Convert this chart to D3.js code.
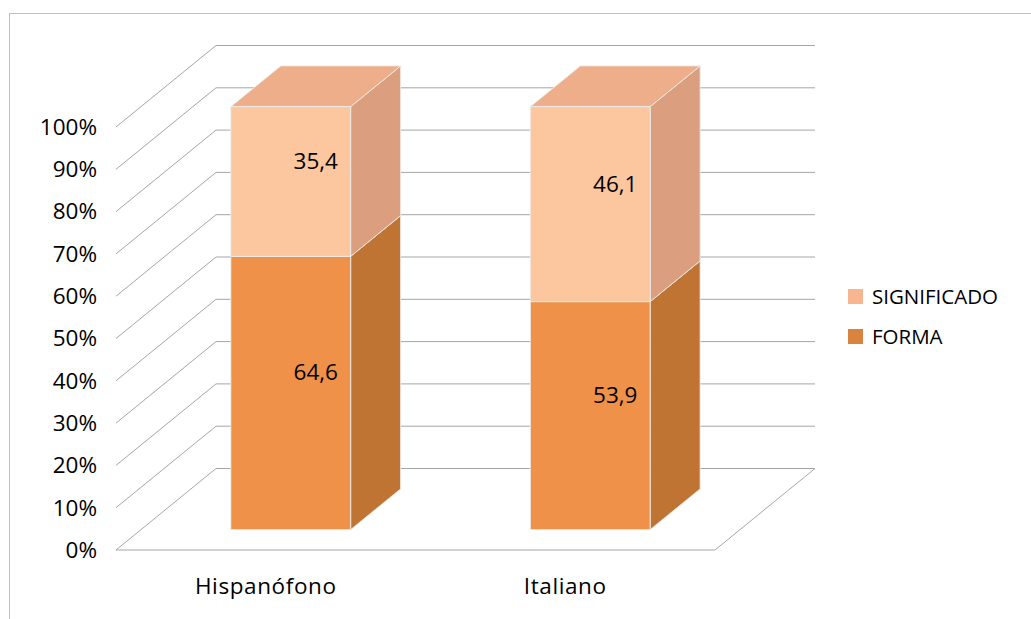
<!DOCTYPE html>
<html>
<head>
<meta charset="utf-8">
<script src="https://cdn.jsdelivr.net/npm/d3@7"></script>
<style>
  html, body { margin: 0; padding: 0; background: #fff; }
  svg { display: block; font-family: "Open Sans", "Noto Sans", sans-serif; }
</style>
</head>
<body>
<svg id="chart" width="1031" height="619"></svg>
<script>
// Stacked 100% 3D columns: share of FORMA vs SIGNIFICADO per group
const categories = ["Hispanófono", "Italiano"];
const seriesNames = ["FORMA", "SIGNIFICADO"];
const forma = [64.6, 53.9];
const significado = [35.4, 46.1];
const tickValues = [0, 10, 20, 30, 40, 50, 60, 70, 80, 90, 100];
const tickLabels = ["0%", "10%", "20%", "30%", "40%", "50%", "60%", "70%", "80%", "90%", "100%"];

const svg = d3.select("#chart");

// Frame around the chart area
svg.append("rect")
  .attr("x", 9.5).attr("y", 13.5)
  .attr("width", 1040).attr("height", 640)
  .attr("fill", "none").attr("stroke", "#bfbfbf").attr("stroke-width", 1);

// Front plane scales and depth projection
const y = d3.scaleLinear().domain([0, 100]).range([550, 127]);
const x = d3.scaleBand().domain(categories).range([116, 715]).padding(0);
const depth = { dx: 100, dy: -81.5 };
const proj = (px, v, z) => [px + z * depth.dx, y(v) + z * depth.dy];

const gridColor = "#a6a6a6";
const grid = svg.append("g").attr("fill", "none").attr("stroke", gridColor).attr("stroke-width", 1);

// Back wall lines and left wall diagonals for each tick
tickValues.forEach(v => {
  const a = proj(116, v, 0), b = proj(116, v, 1), c = proj(715, v, 1);
  grid.append("path").attr("d", d3.line()([a, b, c]));
});
// Floor front and right edges
grid.append("path").attr("d", d3.line()([proj(116, 0, 0), proj(715, 0, 0), proj(715, 0, 1)]));

// Y tick labels
svg.append("g").selectAll("text").data(tickValues).join("text")
  .attr("x", 97).attr("y", d => y(d))
  .attr("dy", "0.35em")
  .attr("text-anchor", "end")
  .attr("font-size", 22.5)
  .attr("fill", "#000")
  .text((d, i) => tickLabels[i]);

// Category labels
svg.append("g").selectAll("text").data(categories).join("text")
  .attr("x", d => x(d) + x.bandwidth() / 2)
  .attr("y", 586)
  .attr("dy", "0.35em")
  .attr("text-anchor", "middle")
  .attr("font-size", 22.5)
  .attr("letter-spacing", "0.6px")
  .attr("fill", "#000")
  .text(d => d);

// Face colours per series
const faces = {
  FORMA: { front: "#F0914A", side: "#C07433", top: "#E4925A", legend: "#D9833F" },
  SIGNIFICADO: { front: "#FCC69E", side: "#DB9E7E", top: "#EDAE89", legend: "#F7B690" }
};

const stacks = categories.map((c, i) => [
  { name: "FORMA", c, v0: 0, v1: forma[i], val: forma[i] },
  { name: "SIGNIFICADO", c, v0: forma[i], v1: forma[i] + significado[i], val: significado[i] }
]);

const barW = x.bandwidth() * 0.4;
const z0 = 0.25, z1 = 0.75;
const bars = svg.append("g");
const poly = pts => "M" + pts.map(p => p.join(",")).join("L") + "Z";
const edge = "rgba(235,235,235,0.9)";

stacks.forEach(stack => {
  stack.forEach((seg, si) => {
    const xl = x(seg.c) + (x.bandwidth() - barW) / 2;
    const xr = xl + barW;
    const f = faces[seg.name];
    const front = [proj(xl, seg.v0, z0), proj(xr, seg.v0, z0), proj(xr, seg.v1, z0), proj(xl, seg.v1, z0)];
    const side = [proj(xr, seg.v0, z0), proj(xr, seg.v0, z1), proj(xr, seg.v1, z1), proj(xr, seg.v1, z0)];
    const top = [proj(xl, seg.v1, z0), proj(xr, seg.v1, z0), proj(xr, seg.v1, z1), proj(xl, seg.v1, z1)];
    bars.append("path").attr("d", poly(side)).attr("fill", f.side).attr("stroke", edge).attr("stroke-width", 1);
    if (si === stack.length - 1) {
      bars.append("path").attr("d", poly(top)).attr("fill", f.top).attr("stroke", edge).attr("stroke-width", 1);
    }
    bars.append("path").attr("d", poly(front)).attr("fill", f.front).attr("stroke", edge).attr("stroke-width", 1);
  });
});

// Value labels at the centre of each box
stacks.forEach(stack => {
  stack.forEach(seg => {
    const xc = x(seg.c) + x.bandwidth() / 2;
    const p = proj(xc, (seg.v0 + seg.v1) / 2, 0.5);
    svg.append("text")
      .attr("x", p[0]).attr("y", p[1])
      .attr("dy", "0.35em")
      .attr("text-anchor", "middle")
      .attr("font-size", 22.5)
      .attr("fill", "#000")
      .text(d3.format(".1f")(seg.val).replace(".", ","));
  });
});

// Legend
const legendItems = ["SIGNIFICADO", "FORMA"];
const legend = svg.append("g").selectAll("g").data(legendItems).join("g")
  .attr("transform", (d, i) => `translate(848, ${297 + i * 40})`);
legend.append("rect")
  .attr("x", 0).attr("y", -8).attr("width", 15).attr("height", 15)
  .attr("fill", d => faces[d].legend);
legend.append("text")
  .attr("x", 24).attr("y", 0)
  .attr("dy", "0.35em")
  .attr("font-size", 20.5)
  .attr("fill", "#000")
  .text(d => d);
</script>
</body>
</html>
